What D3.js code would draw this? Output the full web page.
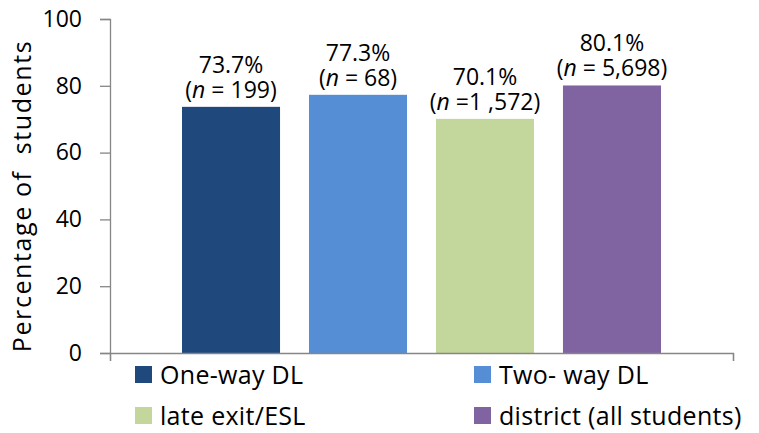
<!DOCTYPE html>
<html>
<head>
<meta charset="utf-8">
<script src="https://cdn.jsdelivr.net/npm/d3@7"></script>
<style>
  html, body { margin: 0; padding: 0; background: #fff; }
  svg { display: block; font-family: "Open Sans", sans-serif; }
</style>
</head>
<body>
<svg id="chart" width="759" height="433"></svg>
<script>
const series = ["One-way DL", "Two- way DL", "late exit/ESL", "district (all students)"];
const values = [73.7, 77.3, 70.1, 80.1];
const pctLabels = ["73.7%", "77.3%", "70.1%", "80.1%"];
const nLabels = ["= 199)", "= 68)", "=1 ,572)", "= 5,698)"];
const colors = ["#1F497D", "#558ED5", "#C3D69B", "#8064A2"];
const yTicks = [0, 20, 40, 60, 80, 100];

const svg = d3.select("#chart");
const mLeft = 110, mRight = 733, mTop = 19, mBottom = 353;
const axisColor = "#868686";

const y = d3.scaleLinear().domain([0, 100]).range([mBottom, mTop]);
const x = d3.scaleBand().domain(series).range([mLeft + 72, mRight - 72]).paddingInner(0.228).paddingOuter(0);

// bars
svg.append("g").selectAll("rect").data(series).join("rect")
  .attr("x", d => x(d))
  .attr("width", x.bandwidth())
  .attr("y", (d, i) => y(values[i]))
  .attr("height", (d, i) => y(0) - y(values[i]))
  .attr("fill", (d, i) => colors[i]);

// y axis
const yAxis = d3.axisLeft(y).tickValues(yTicks).tickSize(10).tickPadding(18);
const gy = svg.append("g").attr("transform", `translate(${mLeft},0)`).call(yAxis);
gy.select(".domain").attr("stroke", axisColor).attr("stroke-width", 1.3);
gy.selectAll(".tick line").attr("stroke", axisColor).attr("stroke-width", 1.3);
gy.selectAll(".tick text").attr("fill", "#000").style("font-size", "23px").style("font-family", "'Open Sans', sans-serif");

// x axis (single category, ticks at both ends)
const xOuter = d3.scaleLinear().domain([0, 1]).range([mLeft, mRight]);
const xAxis = d3.axisBottom(xOuter).tickValues([0, 1]).tickSize(8).tickFormat("");
const gx = svg.append("g").attr("transform", `translate(0,${mBottom})`).call(xAxis);
gx.select(".domain").attr("stroke", axisColor).attr("stroke-width", 1.3);
gx.selectAll(".tick line").attr("stroke", axisColor).attr("stroke-width", 1.3);

// y title
svg.append("text")
  .attr("transform", `translate(31,196) rotate(-90)`)
  .attr("text-anchor", "middle")
  .style("font-size", "25px")
  .style("letter-spacing", "1.6px")
  .attr("xml:space", "preserve")
  .text("Percentage of  students");

// data labels (two lines in one text element)
const lab = svg.append("g").attr("text-anchor", "middle").style("font-size", "23px");
series.forEach((s, i) => {
  const cx = x(s) + x.bandwidth() / 2;
  const ty = y(values[i]);
  const t = lab.append("text").attr("x", cx).attr("y", ty - 34);
  t.append("tspan").attr("x", cx).text(pctLabels[i]);
  const l2 = t.append("tspan").attr("x", cx).attr("dy", 25);
  l2.append("tspan").text("(");
  l2.append("tspan").style("font-style", "italic").text("n");
  l2.append("tspan").text(" " + nLabels[i]);
});

// legend
const legPos = [[135, 366], [474, 366], [135, 407], [474, 407]];
const leg = svg.append("g");
series.forEach((s, i) => {
  const g = leg.append("g").attr("transform", `translate(${legPos[i][0]},${legPos[i][1]})`);
  g.append("rect").attr("width", 17).attr("height", 17).attr("fill", colors[i]);
  g.append("text").attr("x", 25).attr("y", 18).style("font-size", "25px").style("letter-spacing", "0.3px").text(s);
});
</script>
</body>
</html>
